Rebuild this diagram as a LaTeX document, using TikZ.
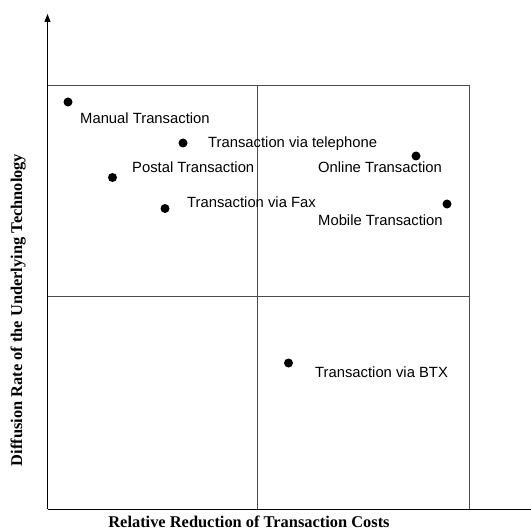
\documentclass[tikz,border=0pt]{standalone}
\usepackage{fontspec}
\setmainfont{Liberation Serif}
\newfontfamily\labelfont{Liberation Sans}
\usetikzlibrary{arrows.meta}
\begin{document}
\begin{tikzpicture}[x=1bp,y=-1bp,
  boxline/.style={draw=black!70,line width=0.9bp},
  axisline/.style={draw=black,line width=1bp},
  dotmark/.style={circle,fill=black,inner sep=0pt,minimum size=9bp},
  itemlabel/.style={anchor=base west,inner sep=0pt,font=\labelfont\fontsize{14.8bp}{16bp}\selectfont},
  axislabel/.style={anchor=base,inner sep=0pt,font=\bfseries\fontsize{16.4bp}{18bp}\selectfont}]
\useasboundingbox (0,0) rectangle (531,530);
% frame and quadrants
\coordinate (tl) at (47.5,85);
\coordinate (tr) at (469,85);
\coordinate (br) at (469,509);
\coordinate (mt) at (257.7,85);
\coordinate (mb) at (257.7,509);
\coordinate (ml) at (47.5,296);
\coordinate (mr) at (469,296);
\coordinate (o) at (47.5,509);
\coordinate (ytip) at (47.5,14);
\coordinate (xend) at (531,509);
\draw[boxline] (tl) -- (tr) -- (br);
\draw[boxline] (mt) -- (mb);
\draw[boxline] (ml) -- (mr);
\draw[axisline,-{Triangle[length=8bp,width=6bp]}] (o) -- (ytip);
\draw[axisline] (o) -- (xend);
% points
\node[dotmark] (manual) at (68,102) {};
\node[dotmark] (phone) at (183,143) {};
\node[dotmark] (postal) at (112.5,177.5) {};
\node[dotmark] (fax) at (165,208.5) {};
\node[dotmark] (online) at (416,156) {};
\node[dotmark] (mobile) at (447,204) {};
\node[dotmark] (btx) at (288.5,363) {};
% labels
\node[itemlabel] (lmanual) at (80,123.5) {Manual Transaction};
\node[itemlabel] (lphone) at (208,148) {Transaction via telephone};
\node[itemlabel] (lpostal) at (132,173) {Postal Transaction};
\node[itemlabel] (lonline) at (318,173) {Online Transaction};
\node[itemlabel] (lfax) at (187,207.5) {Transaction via Fax};
\node[itemlabel] (lmobile) at (318,225) {Mobile Transaction};
\node[itemlabel] (lbtx) at (315,377) {Transaction via BTX};
% axis labels
\node[axislabel] (xlab) at (249,527) {Relative Reduction of Transaction Costs};
\node[axislabel,rotate=90] (ylab) at (22,310) {Diffusion Rate of the Underlying Technology};
\end{tikzpicture}
\end{document}
